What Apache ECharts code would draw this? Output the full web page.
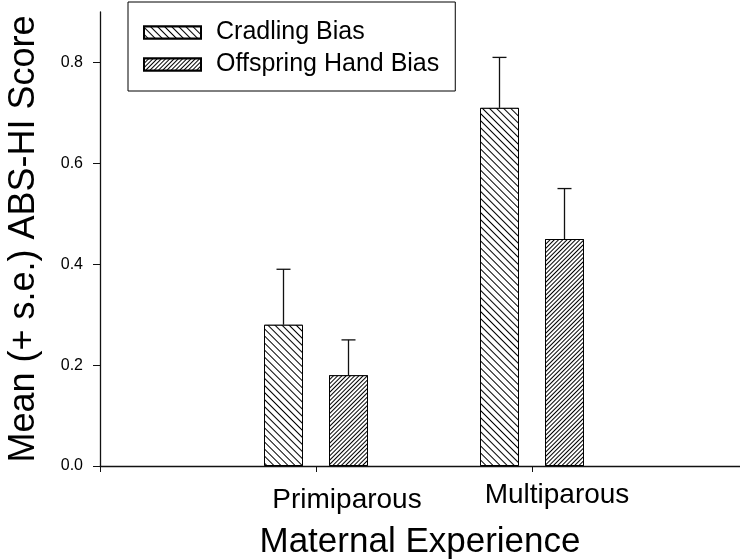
<!DOCTYPE html>
<html>
<head>
<meta charset="utf-8">
<script src="https://cdn.jsdelivr.net/npm/echarts@6/dist/echarts.min.js"></script>
<style>
  html, body { margin: 0; padding: 0; background: #fff; }
  #chart-box { width: 740px; height: 559px; }
</style>
</head>
<body>
<div id="chart-box"></div>
<script>
// 数据
var categories = ['Primiparous', 'Multiparous'];
var catPos = [1, 2];
var cradling = [0.28, 0.71];
var cradlingTop = [0.39, 0.81];
var offspring = [0.18, 0.45];
var offspringTop = [0.25, 0.55];
var yTicks = [0, 0.2, 0.4, 0.6, 0.8];

var FONT = '"Liberation Sans", Arial, sans-serif';
var BAR_W = 39;
var GAP = 26;
var OFFSET = (BAR_W + GAP) / 2;

function pairs(vals) {
    return catPos.map(function (x, i) { return [x, vals[i]]; });
}
function errData(mean, top) {
    return catPos.map(function (x, i) { return [x, mean[i], top[i]]; });
}
function errRender(shift) {
    return function (params, api) {
        var p0 = api.coord([api.value(0), api.value(1)]);
        var p1 = api.coord([api.value(0), api.value(2)]);
        var x = p0[0] + shift;
        var style = { stroke: '#111', lineWidth: 1.3 };
        return {
            type: 'group',
            children: [
                { type: 'line', shape: { x1: x, y1: p0[1], x2: x, y2: p1[1] }, style: style },
                { type: 'line', shape: { x1: x - 7, y1: p1[1], x2: x + 7, y2: p1[1] }, style: style }
            ]
        };
    };
}

var myChart = echarts.init(document.getElementById('chart-box'));

var option = {
    animation: false,
    textStyle: { fontFamily: FONT, color: '#000' },
    grid: { left: 100, top: 12, right: 0, bottom: 93, containLabel: false, outerBoundsMode: 'none' },
    legend: {
        data: ['Cradling Bias', 'Offspring Hand Bias'],
        orient: 'vertical',
        left: 128,
        top: 2,
        icon: 'rect',
        itemWidth: 57,
        itemHeight: 12,
        itemGap: 7,
        borderColor: '#000',
        borderWidth: 1,
        padding: [18, 16, 14, 15],
        textStyle: { fontSize: 25, color: '#000', fontFamily: FONT, padding: [0, 0, 0, 10] }
    },
    xAxis: {
        type: 'value',
        min: 0,
        max: 640 / 216,
        splitLine: { show: false },
        axisLine: { lineStyle: { color: '#111', width: 1.3 } },
        axisTick: { show: true, length: 6, customValues: [0, 1, 2], lineStyle: { color: '#111' } },
        axisLabel: {
            customValues: catPos,
            margin: 15,
            formatter: function (v) {
                return v === 1 ? '{p|' + categories[0] + '}' : '{m|' + categories[1] + '}';
            },
            rich: {
                p: { fontSize: 28, color: '#000', fontFamily: FONT, padding: [5, 0, 0, 62] },
                m: { fontSize: 28, color: '#000', fontFamily: FONT, padding: [0, 0, 0, 50] }
            }
        },
        name: 'Maternal Experience',
        nameLocation: 'middle',
        nameGap: 59,
        nameTextStyle: { fontSize: 35, color: '#000', fontFamily: FONT }
    },
    yAxis: {
        type: 'value',
        min: 0,
        max: 0.9,
        splitLine: { show: false },
        axisLine: { show: true, lineStyle: { color: '#111', width: 1.3 } },
        axisTick: { show: true, length: 7, customValues: yTicks, lineStyle: { color: '#111' } },
        axisLabel: {
            customValues: yTicks,
            fontSize: 16,
            color: '#000',
            margin: 17,
            formatter: function (v) { return v.toFixed(1); }
        },
        name: 'Mean (+ s.e.) ABS-HI Score',
        nameLocation: 'middle',
        nameGap: 58,
        nameTextStyle: { fontSize: 36, color: '#000', fontFamily: FONT }
    },
    series: [
        {
            name: 'Cradling Bias',
            type: 'bar',
            data: pairs(cradling),
            barWidth: BAR_W,
            barGap: (GAP / BAR_W * 100) + '%',
            itemStyle: {
                color: '#fff',
                borderColor: '#000',
                borderWidth: 1,
                decal: {
                    symbol: 'rect',
                    symbolSize: 1,
                    color: '#000',
                    backgroundColor: '#fff',
                    dashArrayX: [1, 0],
                    dashArrayY: [1, 4],
                    rotation: Math.PI / 4
                }
            }
        },
        {
            name: 'Offspring Hand Bias',
            type: 'bar',
            data: pairs(offspring),
            barWidth: BAR_W,
            barGap: (GAP / BAR_W * 100) + '%',
            itemStyle: {
                color: '#fff',
                borderColor: '#000',
                borderWidth: 1,
                decal: {
                    symbol: 'rect',
                    symbolSize: 1,
                    color: '#000',
                    backgroundColor: '#fff',
                    dashArrayX: [1, 0],
                    dashArrayY: [1, 2],
                    rotation: -Math.PI / 4
                }
            }
        },
        {
            name: 'err1',
            type: 'custom',
            data: errData(cradling, cradlingTop),
            renderItem: errRender(-OFFSET),
            z: 5
        },
        {
            name: 'err2',
            type: 'custom',
            data: errData(offspring, offspringTop),
            renderItem: errRender(OFFSET),
            z: 5
        }
    ]
};

myChart.setOption(option);
</script>
</body>
</html>
